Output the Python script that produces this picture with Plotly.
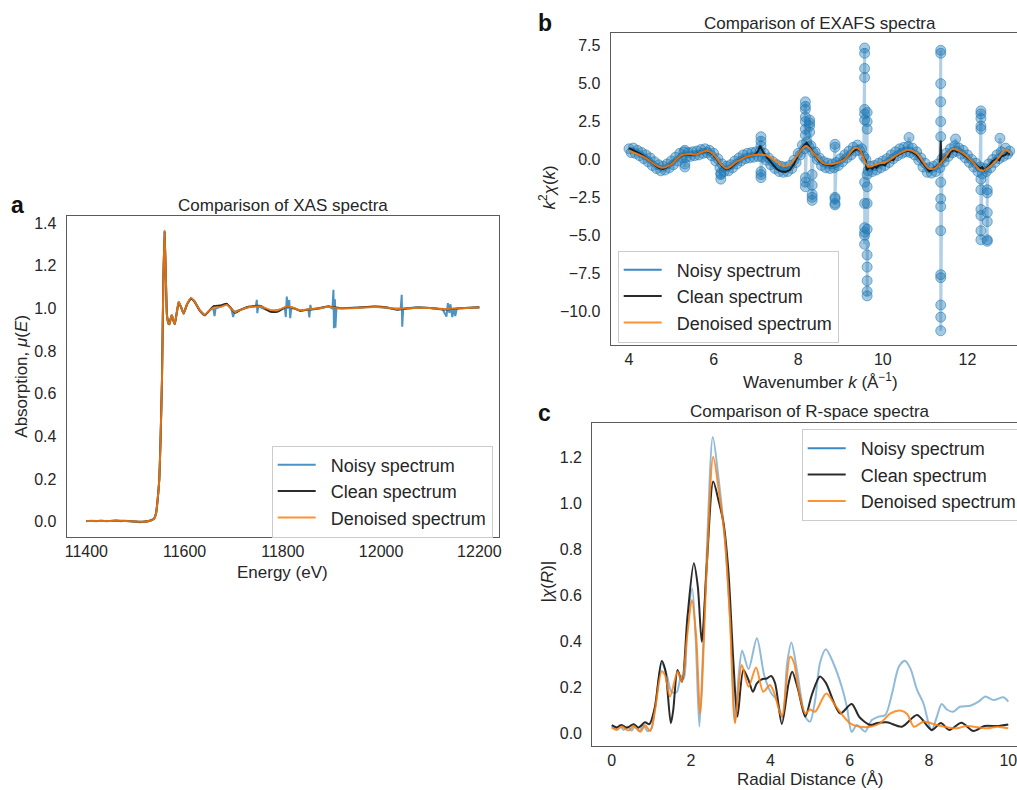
import plotly.graph_objects as go

W, H = 1017, 790
FONT = "Liberation Sans, Arial, sans-serif"
TXT = "#262626"

# ---------------- Panel a : XAS ----------------
energy_a = [11400, 11420, 11440, 11460, 11480, 11500, 11515, 11530, 11538, 11542, 11545, 11548.5,
            11551, 11554, 11556.7, 11559.3, 11562, 11564, 11567, 11569, 11572, 11574, 11577, 11580,
            11584, 11588, 11593, 11598, 11605, 11613, 11620, 11630, 11641, 11650, 11660, 11672,
            11686, 11695, 11703, 11715, 11730, 11755, 11775, 11790, 11808, 11820, 11835, 11850,
            11870, 11893, 11915, 11950, 11985, 12010, 12032, 12050, 12075, 12100, 12127, 12160, 12200]
mu_clean = [0.003, 0.004, 0.003, 0.005, 0.004, 0.001, 0.0, 0.005, 0.015, 0.04, 0.1, 0.2,
            0.38, 0.67, 1.13, 1.362, 1.13, 0.97, 0.93, 0.926, 0.955, 0.968, 0.945, 0.926,
            0.98, 1.03, 1.005, 0.976, 1.02, 1.046, 1.033, 0.993, 0.968, 0.99, 1.012, 1.014,
            1.022, 1.0, 0.98, 0.995, 1.008, 1.012, 0.985, 0.986, 1.008, 1.004, 0.99, 0.995,
            1.0, 1.01, 1.002, 1.004, 1.009, 1.006, 0.994, 0.999, 1.005, 1.003, 0.996, 1.001, 1.006]
mu_denoised = [0.003, 0.004, 0.003, 0.005, 0.004, 0.001, 0.0, 0.005, 0.015, 0.04, 0.1, 0.2,
               0.38, 0.67, 1.13, 1.366, 1.13, 0.97, 0.93, 0.928, 0.955, 0.970, 0.945, 0.928,
               0.98, 1.032, 1.005, 0.978, 1.02, 1.049, 1.035, 0.995, 0.970, 0.99, 1.005, 1.006,
               1.018, 1.0, 0.983, 0.995, 1.006, 1.01, 0.993, 0.992, 1.01, 1.005, 0.992, 0.996,
               1.0, 1.008, 1.001, 1.003, 1.007, 1.005, 0.998, 1.0, 1.004, 1.002, 0.997, 1.001, 1.005]
energy_noisy_a = [11400, 11410, 11420, 11430, 11440, 11450, 11460, 11470, 11480, 11490, 11500, 11510,
                  11520, 11530, 11538, 11542, 11545, 11548.5, 11551, 11554, 11556.7, 11559.3, 11562,
                  11564, 11567, 11569, 11572, 11574, 11577, 11580, 11584, 11588, 11593, 11598, 11605,
                  11613, 11620, 11630, 11641, 11650, 11658, 11661, 11663, 11672, 11686, 11695, 11699,
                  11701, 11715, 11730, 11745, 11747, 11748, 11750, 11765, 11780, 11795, 11804, 11806,
                  11808, 11810, 11813, 11815, 11817, 11825, 11835, 11852, 11854, 11856, 11858, 11875,
                  11893, 11901, 11903, 11904, 11906, 11907, 11909, 11930, 11960, 11990, 12020, 12040,
                  12042, 12043, 12045, 12070, 12100, 12125, 12133, 12136, 12139, 12141, 12145, 12148,
                  12151, 12154, 12175, 12200]
mu_noisy_a = [0.002, 0.005, 0.003, 0.006, 0.002, 0.004, 0.006, 0.003, 0.005, 0.002, 0.0, -0.002,
              0.001, 0.006, 0.015, 0.04, 0.1, 0.2, 0.38, 0.67, 1.13, 1.366, 1.13,
              0.97, 0.93, 0.928, 0.955, 0.970, 0.945, 0.928, 0.98, 1.032, 1.005, 0.978, 1.02,
              1.049, 1.035, 0.995, 0.970, 0.99, 1.005, 0.965, 1.0, 1.008, 1.02, 1.0, 0.96,
              0.985, 0.995, 1.006, 1.01, 1.041, 0.978, 1.01, 0.995, 0.99, 0.995, 1.005, 0.96,
              1.056, 1.0, 1.04, 0.955, 1.0, 1.0, 0.99, 0.995, 0.958, 1.017, 0.995, 1.0,
              1.01, 1.0, 1.088, 0.908, 1.044, 0.91, 1.0, 1.002, 1.005, 1.008, 1.0, 1.0,
              1.064, 0.915, 1.0, 1.005, 1.002, 0.998, 0.962, 1.025, 0.98, 1.02, 0.96, 1.0,
              0.965, 1.0, 1.002, 1.005]

# ---------------- Panel b : EXAFS ----------------
k_noisy_base = [4.00, 4.05, 4.10, 4.15, 4.20, 4.25, 4.30, 4.35, 4.40, 4.45, 4.50, 4.55, 4.60, 4.65, 4.70,
                4.75, 4.80, 4.85, 4.90, 4.95, 5.00, 5.05, 5.10, 5.15, 5.20, 5.25, 5.30, 5.35, 5.40, 5.45,
                5.50, 5.55, 5.60, 5.65, 5.70, 5.75, 5.80, 5.85, 5.90, 5.95, 6.00, 6.05, 6.10, 6.15, 6.20,
                6.25, 6.30, 6.35, 6.40, 6.45, 6.50, 6.55, 6.60, 6.65, 6.70, 6.75, 6.80, 6.85, 6.90, 6.95,
                7.00, 7.05, 7.10, 7.15, 7.20, 7.25, 7.30, 7.35, 7.40, 7.45, 7.50, 7.55, 7.60, 7.65, 7.70,
                7.75, 7.80, 7.85, 7.90, 7.95, 8.00, 8.05, 8.10, 8.15, 8.20, 8.25, 8.30, 8.35, 8.40, 8.45,
                8.50, 8.55, 8.60, 8.65, 8.70, 8.75, 8.80, 8.85, 8.90, 8.95, 9.00, 9.05, 9.10, 9.15, 9.20,
                9.25, 9.30, 9.35, 9.40, 9.45, 9.50, 9.55, 9.60, 9.65, 9.70, 9.75, 9.80, 9.85, 9.90, 9.95,
                10.00, 10.05, 10.10, 10.15, 10.20, 10.25, 10.30, 10.35, 10.40, 10.45, 10.50, 10.55, 10.60,
                10.65, 10.70, 10.75, 10.80, 10.85, 10.90, 10.95, 11.00, 11.05, 11.10, 11.15, 11.20, 11.25,
                11.30, 11.35, 11.40, 11.45, 11.50, 11.55, 11.60, 11.65, 11.70, 11.75, 11.80, 11.85, 11.90,
                11.95, 12.00, 12.05, 12.10, 12.15, 12.20, 12.25, 12.30, 12.35, 12.40, 12.45, 12.50, 12.55,
                12.60, 12.65, 12.70, 12.75, 12.80, 12.85, 12.90, 12.95, 13.00]
chi_noisy_base = [0.70, 0.45, 0.75, 0.40, 0.60, 0.25, 0.45, 0.05, 0.30, -0.15, 0.10, -0.40, -0.15, -0.60, -0.35,
                  -0.75, -0.45, -0.70, -0.30, -0.55, -0.10, -0.35, 0.15, -0.10, 0.40, 0.10, 0.50, 0.15, 0.45, 0.20,
                  0.50, 0.25, 0.55, 0.30, 0.65, 0.40, 0.70, 0.45, 0.60, 0.25, 0.40, -0.10, 0.05, -0.55, -0.30,
                  -0.80, -0.45, -0.75, -0.35, -0.55, -0.10, -0.30, 0.10, -0.10, 0.30, 0.05, 0.40, 0.10, 0.45, 0.15,
                  0.50, 0.20, 0.55, 0.15, 0.40, -0.05, 0.10, -0.35, -0.15, -0.60, -0.35, -0.80, -0.45, -0.85, -0.50,
                  -0.80, -0.40, -0.60, -0.05, -0.20, 0.40, 0.30, 0.95, 0.70, 1.15, 0.85, 0.90, 0.45, 0.50, 0.00,
                  0.10, -0.40, -0.15, -0.55, -0.25, -0.60, -0.30, -0.55, -0.20, -0.40, 0.05, -0.15, 0.30, 0.10, 0.55,
                  0.30, 0.80, 0.55, 0.95, 0.60, 0.70, 0.20, 0.00, -0.75, -0.45, -0.80, -0.40, -0.70, -0.25, -0.55,
                  -0.10, -0.40, 0.05, -0.20, 0.30, 0.05, 0.50, 0.25, 0.70, 0.40, 0.80, 0.50, 0.85,
                  0.45, 0.75, 0.30, 0.50, -0.05, 0.10, -0.50, -0.25, -0.85, -0.55, -0.90, -0.45, -0.80,
                  -0.30, -0.55, 0.05, -0.15, 0.40, 0.20, 0.70, 0.45, 0.90, 0.55, 0.75, 0.35, 0.60,
                  0.10, 0.30, -0.20, 0.00, -0.50, -0.25, -0.80, -0.50, -0.95, -0.60, -0.80, -0.30, -0.55,
                  0.00, -0.20, 0.30, 0.05, 0.50, 0.20, 0.75, 0.35, 0.55]
# outlier columns (k, chi)
k_spikes = [5.32, 5.32, 5.32,
            6.17, 6.17, 6.17,
            7.12, 7.12, 7.12, 7.12, 7.12, 7.12,
            8.17, 8.17, 8.17, 8.17, 8.17, 8.17, 8.17, 8.17, 8.17, 8.17,
            8.27, 8.27, 8.27, 8.27,
            8.33, 8.33, 8.33, 8.33, 8.33,
            8.87, 8.87, 8.87, 8.87, 8.87, 8.87,
            9.57, 9.57, 9.57, 9.57, 9.57, 9.57, 9.57, 9.57, 9.57, 9.57, 9.57, 9.57, 9.57,
            9.63, 9.63, 9.63, 9.63, 9.63, 9.63, 9.63, 9.63, 9.63, 9.63, 9.63, 9.63,
            10.62, 11.37, 11.37, 11.37, 11.37, 11.37, 11.37, 11.37, 11.37, 11.37, 11.37, 11.37, 11.37,
            11.37, 11.37, 11.37,
            11.72,
            12.32, 12.32, 12.32, 12.32, 12.32, 12.32, 12.32, 12.32, 12.32, 12.32, 12.32,
            12.47, 12.47, 12.47, 12.47, 12.47, 12.47,
            12.77]
chi_spikes = [0.6, -0.5, -0.3,
              -1.0, -1.3, -0.9,
              1.5, 1.2, 0.9, -0.8, -1.0, -1.2,
              2.0, 2.8, 3.5, 3.8, 3.3, 2.5, 1.6, -1.2, -1.8, -1.5,
              2.6, 2.2, 1.8, 2.4,
              -1.0, -1.7, -2.3, -2.7, -2.5,
              1.0, 0.8, -2.5, -2.9, -3.0, -2.6,
              7.35, 7.0, 6.0, 5.4, 3.3, 3.0, 2.6, -1.5, -2.9, -4.5, -5.0, -5.6, -4.8,
              3.1, 2.5, 2.0, -1.0, -1.8, -2.9, -4.6, -6.3, -7.1, -8.0, -8.7, -9.0,
              1.45, 7.2, 7.0, 5.0, 3.8, 2.5, 1.5, -1.5, -2.6, -3.1, -4.7, -7.6, -7.8,
              -9.6, -10.4, -11.3,
              1.35,
              3.2, 3.0, 2.7, 2.2, 2.0, -1.3, -2.0, -3.3, -3.7, -4.7, -5.3,
              -2.0, -3.5, -4.1, -5.3, -5.4, -2.2,
              1.4]

k_clean = [4.0, 4.1, 4.2, 4.3, 4.4, 4.5, 4.6, 4.7, 4.8, 4.9, 5.0, 5.1, 5.2, 5.3, 5.4, 5.5, 5.6, 5.7,
           5.8, 5.9, 6.0, 6.1, 6.2, 6.3, 6.4, 6.5, 6.6, 6.7, 6.8, 6.9, 7.0, 7.05, 7.1, 7.15, 7.2, 7.3,
           7.4, 7.5, 7.6, 7.7, 7.8, 7.9, 8.0, 8.1, 8.2, 8.25, 8.3, 8.4, 8.5, 8.6, 8.7, 8.8, 8.9, 9.0,
           9.1, 9.2, 9.3, 9.4, 9.5, 9.55, 9.6, 9.62, 9.7, 9.75, 9.8, 9.85, 9.9, 10.0, 10.05, 10.1,
           10.2, 10.25, 10.3, 10.4, 10.5, 10.6, 10.7, 10.8, 10.9, 11.0, 11.05, 11.1, 11.2, 11.3,
           11.35, 11.37, 11.39, 11.45, 11.5, 11.55, 11.6, 11.7, 11.75, 11.8, 11.9, 12.0, 12.05, 12.1,
           12.2, 12.3, 12.35, 12.4, 12.5, 12.6, 12.7, 12.75, 12.8, 12.9, 12.95, 13.0]
chi_clean = [0.75, 0.62, 0.5, 0.32, 0.12, -0.1, -0.35, -0.55, -0.62, -0.5, -0.3, -0.05, 0.2, 0.32, 0.3, 0.33, 0.36, 0.45,
             0.55, 0.5, 0.3, -0.1, -0.45, -0.65, -0.55, -0.3, -0.05, 0.1, 0.2, 0.25, 0.35, 0.55, 0.9, 0.6, 0.35, 0.0,
             -0.35, -0.65, -0.8, -0.82, -0.7, -0.3, 0.3, 0.8, 1.1, 0.9, 0.75, 0.3, -0.1, -0.3, -0.35, -0.42, -0.3, -0.15,
             0.05, 0.3, 0.55, 0.7, 0.5, 0.1, -0.1, -0.7, -0.5, -0.62, -0.45, -0.55, -0.4, -0.32, -0.4, -0.2,
             0.0, -0.05, 0.2, 0.35, 0.5, 0.57, 0.48, 0.3, -0.1, -0.5, -0.62, -0.78, -0.62, -0.42,
             -0.3, 1.25, -0.2, 0.0, 0.25, 0.15, 0.5, 0.62, 0.5, 0.55, 0.35, 0.1, 0.0, -0.15,
             -0.38, -0.6, -0.5, -0.72, -0.45, -0.1, 0.05, -0.05, 0.2, 0.3, 0.45, 0.3]

k_denoised = [4.0, 4.34, 4.77, 4.97, 5.25, 5.44, 5.6, 5.84, 5.99, 6.19, 6.31, 6.55, 6.78, 7.1, 7.33, 7.65,
              7.81, 7.96, 8.18, 8.4, 8.6, 8.79, 9.07, 9.36, 9.46, 9.66, 9.85, 10.09, 10.33, 10.6, 10.8,
              11.08, 11.23, 11.43, 11.65, 11.9, 12.14, 12.34, 12.54, 12.77, 12.91, 13.0]
chi_denoised = [0.57, 0.18, -0.55, -0.37, 0.29, 0.35, 0.35, 0.57, 0.35, -0.37, -0.59, -0.15, 0.18, 0.33, 0.18, -0.42,
                -0.31, 0.18, 0.88, 0.29, -0.26, -0.31, -0.04, 0.77, 0.62, -0.48, -0.31, -0.15, 0.29, 0.62, 0.40,
                -0.59, -0.59, -0.04, 0.68, 0.40, -0.22, -0.75, -0.44, 0.22, 0.66, 0.44]

# ---------------- Panel c : R-space ----------------
r_noisy = [0.0, 0.1, 0.2, 0.3, 0.4, 0.5, 0.6, 0.7, 0.8, 0.9, 1.0, 1.1, 1.26, 1.38, 1.51, 1.64, 1.75, 1.82,
           1.9, 2.03, 2.12, 2.21, 2.3, 2.4, 2.55, 2.7, 2.85, 3.0, 3.11, 3.2, 3.29, 3.45, 3.66, 3.85, 4.04,
           4.15, 4.31, 4.42, 4.53, 4.67, 4.88, 5.0, 5.13, 5.25, 5.4, 5.59, 5.8, 5.93, 6.05, 6.18, 6.3, 6.39,
           6.56, 6.73, 6.9, 7.07, 7.24, 7.39, 7.53, 7.7, 7.86, 7.99, 8.07, 8.2, 8.32, 8.45, 8.61, 8.78,
           9.04, 9.25, 9.42, 9.63, 9.88, 10.0]
chir_noisy = [0.03, 0.02, 0.035, 0.015, 0.03, 0.012, 0.035, 0.01, 0.035, 0.01, 0.02, 0.12, 0.305, 0.26, 0.18, 0.18, 0.25, 0.24,
              0.45, 0.63, 0.4, 0.03, 0.35, 0.8, 1.29, 1.1, 0.85, 0.45, 0.05, 0.25, 0.36, 0.28, 0.414, 0.25, 0.17,
              0.15, 0.07, 0.3, 0.395, 0.276, 0.073, 0.051, 0.145, 0.305, 0.366, 0.305, 0.203, 0.116, 0.007, 0.036, 0.02, 0.007,
              0.058, 0.073, 0.08, 0.174, 0.29, 0.316, 0.283, 0.189, 0.131, 0.044, 0.012, 0.073, 0.128, 0.104, 0.094, 0.116,
              0.12, 0.138, 0.16, 0.145, 0.157, 0.138]
r_clean = [0.0, 0.125, 0.25, 0.38, 0.55, 0.67, 0.84, 0.95, 1.09, 1.26, 1.35, 1.49, 1.55, 1.66, 1.77, 1.91, 2.07, 2.17,
           2.27, 2.4, 2.56, 2.69, 2.82, 2.94, 3.07, 3.17, 3.32, 3.45, 3.56, 3.66, 3.78, 3.91, 4.02, 4.12, 4.29,
           4.46, 4.55, 4.7, 4.88, 5.05, 5.25, 5.4, 5.76, 6.05, 6.25, 6.52, 6.7, 6.94, 7.32, 7.7, 8.07, 8.3,
           8.51, 8.82, 9.12, 9.4, 9.72, 10.0]
chir_clean = [0.036, 0.026, 0.036, 0.024, 0.04, 0.025, 0.048, 0.04, 0.116, 0.315, 0.276, 0.044, 0.1, 0.276, 0.225, 0.508, 0.74, 0.64,
              0.399, 0.74, 1.096, 1.016, 0.914, 0.711, 0.305, 0.073, 0.276, 0.232, 0.181, 0.218, 0.235, 0.239, 0.25, 0.218, 0.041,
              0.218, 0.268, 0.19, 0.073, 0.17, 0.247, 0.22, 0.087, 0.128, 0.07, 0.036, 0.045, 0.048, 0.029, 0.08, 0.015, 0.045,
              0.015, 0.046, 0.01, 0.032, 0.032, 0.039]
r_denoised = [0.0, 0.125, 0.25, 0.42, 0.55, 0.72, 0.84, 0.97, 1.09, 1.26, 1.35, 1.47, 1.66, 1.77, 1.9, 2.02, 2.13, 2.23,
              2.4, 2.56, 2.72, 2.85, 2.98, 3.11, 3.28, 3.45, 3.64, 3.82, 3.99, 4.1, 4.29, 4.5, 4.6, 4.7, 4.88, 5.0,
              5.13, 5.41, 5.66, 6.01, 6.26, 6.52, 6.77, 7.03, 7.28, 7.45, 7.62, 7.86, 8.2, 8.7, 8.95, 9.46, 9.72, 10.0]
chir_denoised = [0.025, 0.015, 0.03, 0.012, 0.032, 0.007, 0.035, 0.01, 0.1, 0.27, 0.25, 0.16, 0.268, 0.225, 0.42, 0.58, 0.42, 0.087,
                 0.74, 1.204, 1.03, 0.856, 0.508, 0.044, 0.297, 0.203, 0.287, 0.181, 0.21, 0.174, 0.073, 0.334, 0.305, 0.2, 0.087, 0.104,
                 0.094, 0.174, 0.116, 0.044, 0.029, 0.029, 0.044, 0.087, 0.099, 0.084, 0.029, 0.051, 0.036, 0.022, 0.032, 0.022, 0.029, 0.022]

legend_labels = ["Noisy spectrum", "Clean spectrum", "Denoised spectrum"]

PAD = "\u00a0\u00a0"
BLUE = "rgba(31,119,180,0.8)"
BLUE_LEG = "rgba(58,138,200,1)"
BLACK = "rgba(20,20,20,0.9)"
ORANGE = "rgba(255,127,14,0.85)"

fig = go.Figure()

# panel a
fig.add_trace(go.Scatter(x=energy_noisy_a, y=mu_noisy_a, mode="lines", name=PAD + legend_labels[0],
                         line=dict(color=BLUE, width=2), xaxis="x", yaxis="y", legend="legend"))
fig.add_trace(go.Scatter(x=energy_a, y=mu_clean, mode="lines", name=PAD + legend_labels[1],
                         line=dict(color=BLACK, width=2, shape="spline", smoothing=0.5),
                         xaxis="x", yaxis="y", legend="legend"))
fig.add_trace(go.Scatter(x=energy_a, y=mu_denoised, mode="lines", name=PAD + legend_labels[2],
                         line=dict(color=ORANGE, width=2, shape="spline", smoothing=0.5),
                         xaxis="x", yaxis="y", legend="legend"))

# panel b
pairs = sorted(list(zip(k_noisy_base, chi_noisy_base)) + list(zip(k_spikes, chi_spikes)), key=lambda p: p[0])
kb = [p[0] for p in pairs]
cb = [p[1] for p in pairs]
fig.add_trace(go.Scatter(x=kb, y=cb, mode="lines+markers", name=legend_labels[0], showlegend=False,
                         line=dict(color="rgba(31,119,180,0.35)", width=3),
                         marker=dict(size=10, color="rgba(31,119,180,0.4)",
                                     line=dict(color="rgba(31,119,180,0.55)", width=1)),
                         xaxis="x2", yaxis="y2"))
fig.add_trace(go.Scatter(x=[None], y=[None], mode="lines", name=PAD + legend_labels[0],
                         line=dict(color=BLUE_LEG, width=2), xaxis="x2", yaxis="y2", legend="legend2"))
fig.add_trace(go.Scatter(x=k_clean, y=chi_clean, mode="lines", name=PAD + legend_labels[1],
                         line=dict(color=BLACK, width=2), xaxis="x2", yaxis="y2", legend="legend2"))
fig.add_trace(go.Scatter(x=k_denoised, y=chi_denoised, mode="lines", name=PAD + legend_labels[2],
                         line=dict(color=ORANGE, width=2, shape="spline", smoothing=1.0),
                         xaxis="x2", yaxis="y2", legend="legend2"))

# panel c
fig.add_trace(go.Scatter(x=r_noisy, y=chir_noisy, mode="lines", name=legend_labels[0], showlegend=False,
                         line=dict(color="rgba(31,119,180,0.5)", width=2, shape="spline", smoothing=0.8),
                         xaxis="x3", yaxis="y3"))
fig.add_trace(go.Scatter(x=[None], y=[None], mode="lines", name=PAD + legend_labels[0],
                         line=dict(color=BLUE_LEG, width=2), xaxis="x3", yaxis="y3", legend="legend3"))
fig.add_trace(go.Scatter(x=r_clean, y=chir_clean, mode="lines", name=PAD + legend_labels[1],
                         line=dict(color=BLACK, width=2, shape="spline", smoothing=0.8),
                         xaxis="x3", yaxis="y3", legend="legend3"))
fig.add_trace(go.Scatter(x=r_denoised, y=chir_denoised, mode="lines", name=PAD + legend_labels[2],
                         line=dict(color=ORANGE, width=2, shape="spline", smoothing=0.8),
                         xaxis="x3", yaxis="y3", legend="legend3"))

def ax(**kw):
    d = dict(showgrid=False, zeroline=False, showline=True, linecolor="#5a5a5a", linewidth=1.2,
             ticks="", tickfont=dict(family=FONT, size=16, color=TXT), ticklabelstandoff=6,
             ticklabeloverflow="allow", autorange=False)
    d.update(kw)
    return d

def px(x, y):
    return x / W, 1 - y / H

leg_common = dict(bgcolor="rgba(255,255,255,0.85)", bordercolor="#cccccc", borderwidth=1,
                  font=dict(family=FONT, size=18, color=TXT), xanchor="left", yanchor="top",
                  itemwidth=38, tracegroupgap=0)

fig.update_layout(
    width=W, height=H, margin=dict(l=0, r=0, t=0, b=0, autoexpand=False),
    paper_bgcolor="white", plot_bgcolor="white",
    font=dict(family=FONT, color=TXT),
    xaxis=ax(domain=[66.7 / W, 499 / W], range=[11360, 12240], tickvals=[11400, 11600, 11800, 12000, 12200],
             tickformat="d", mirror=True, anchor="y", ticklabelstandoff=0),
    yaxis=ax(domain=[1 - 537 / H, 1 - 216 / H], range=[-0.0715, 1.434], tickvals=[0, 0.2, 0.4, 0.6, 0.8, 1.0, 1.2, 1.4],
             tickformat=".1f", mirror=True, anchor="x"),
    xaxis2=ax(domain=[610.7 / W, 1.0], range=[3.567, 13.173], tickvals=[4, 6, 8, 10, 12], mirror=True, anchor="y2",
              ticklabelstandoff=0),
    yaxis2=ax(domain=[1 - 345 / H, 1 - 33.3 / H], range=[-12.24, 8.32],
              tickvals=[-10, -7.5, -5, -2.5, 0, 2.5, 5, 7.5], tickformat=".1f", anchor="x2"),
    xaxis3=ax(domain=[592.3 / W, 1.0], range=[-0.49, 10.22], tickvals=[0, 2, 4, 6, 8, 10], mirror=True, anchor="y3",
              ticklabelstandoff=0),
    yaxis3=ax(domain=[1 - 746 / H, 1 - 422.7 / H], range=[-0.055, 1.352],
              tickvals=[0, 0.2, 0.4, 0.6, 0.8, 1.0, 1.2], tickformat=".1f", anchor="x3"),
    legend=dict(x=px(271.7, 0)[0], y=px(0, 445.5)[1], **leg_common),
    legend2=dict(x=px(617.7, 0)[0], y=px(0, 250.5)[1], **leg_common),
    legend3=dict(x=px(801.7, 0)[0], y=px(0, 429)[1], **leg_common),
)

def ann(text, x, y, size=17, bold=False, angle=0):
    xx, yy = px(x, y)
    fig.add_annotation(text=f"<b>{text}</b>" if bold else text, x=xx, y=yy, xref="paper", yref="paper",
                       xanchor="center", yanchor="middle", showarrow=False, textangle=angle,
                       font=dict(family=FONT, size=size, color="#111111" if bold else TXT))

ann("a", 17, 205, size=23, bold=True)
ann("b", 545, 23, size=23, bold=True)
ann("c", 544, 413, size=23, bold=True)
ann("Comparison of XAS spectra", 282.5, 205)
ann("Comparison of EXAFS spectra", 819.5, 23.3)
ann("Comparison of R-space spectra", 810.3, 411)
ann("Energy (eV)", 282.8, 572)
ann("Absorption, <i>μ</i>(<i>E</i>)", 22, 376.7, angle=-90)
ann("Wavenumber <i>k</i> (Å<sup>−1</sup>)", 820, 381)
ann("<i>k</i><sup>2</sup><i>χ</i>(<i>k</i>)", 547.5, 188, angle=-90)
ann("Radial Distance (Å)", 810, 779)
ann("|<i>χ</i>(<i>R</i>)|", 546.5, 582, angle=-90)

fig.write_html("out.html")
